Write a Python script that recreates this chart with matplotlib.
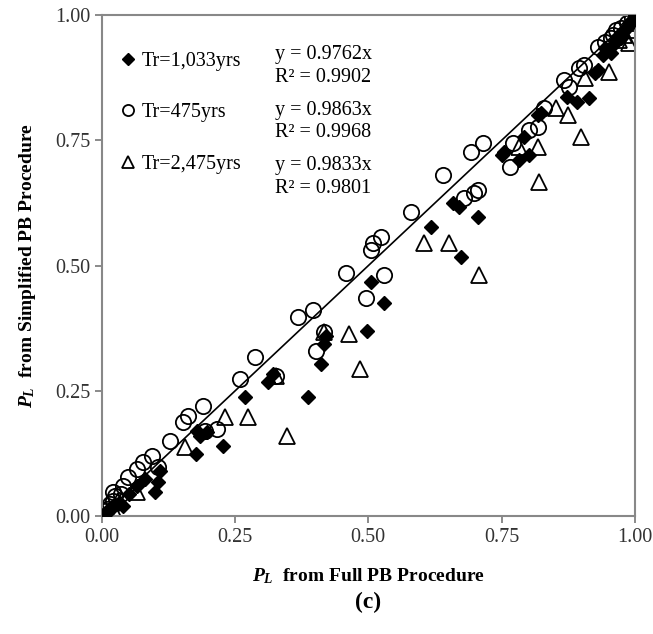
import matplotlib
matplotlib.use("Agg")
import matplotlib.pyplot as plt
import numpy as np

plt.rcParams['font.family'] = ['Liberation Serif', 'DejaVu Serif']
plt.rcParams['mathtext.fontset'] = 'custom'
plt.rcParams['mathtext.it'] = 'Liberation Serif:bold:italic'
plt.rcParams['mathtext.rm'] = 'Liberation Serif:bold'

# Tr = 1,033 yrs (filled diamonds)
tr1033_x = [0.000, 0.004, 0.008, 0.012, 0.018, 0.022, 0.030, 0.040, 0.050, 0.065, 0.081, 0.100,
            0.105, 0.109, 0.176, 0.179, 0.185, 0.198, 0.228, 0.269, 0.311, 0.321, 0.386, 0.412,
            0.416, 0.420, 0.497, 0.505, 0.529, 0.618, 0.659, 0.670, 0.674, 0.706, 0.750, 0.755,
            0.782, 0.793, 0.802, 0.819, 0.825, 0.872, 0.891, 0.915, 0.925, 0.932, 0.940, 0.950,
            0.960, 0.965, 0.970, 0.975, 0.980, 0.985, 0.990, 0.995, 1.000, 0.955, 0.945, 0.975, 0.990]
tr1033_y = [0.000, 0.004, 0.006, 0.012, 0.015, 0.022, 0.025, 0.020, 0.045, 0.060, 0.074, 0.048,
            0.068, 0.090, 0.124, 0.169, 0.159, 0.167, 0.139, 0.237, 0.267, 0.283, 0.237, 0.303,
            0.343, 0.360, 0.369, 0.468, 0.426, 0.578, 0.625, 0.618, 0.518, 0.598, 0.721, 0.727,
            0.711, 0.757, 0.721, 0.801, 0.805, 0.837, 0.827, 0.835, 0.884, 0.890, 0.920, 0.930,
            0.940, 0.950, 0.960, 0.965, 0.970, 0.975, 0.985, 0.990, 1.000, 0.925, 0.935, 0.955, 0.980]

# Tr = 475 yrs (open circles)
tr475_x = [0.000, 0.005, 0.010, 0.015, 0.020, 0.025, 0.035, 0.021, 0.040, 0.049, 0.066, 0.077,
           0.094, 0.105, 0.128, 0.153, 0.162, 0.190, 0.194, 0.216, 0.260, 0.288, 0.326, 0.369,
           0.397, 0.401, 0.416, 0.458, 0.495, 0.505, 0.508, 0.524, 0.529, 0.580, 0.640, 0.680,
           0.699, 0.706, 0.693, 0.716, 0.766, 0.772, 0.802, 0.819, 0.829, 0.868, 0.876, 0.895,
           0.904, 0.932, 0.944, 0.955, 0.960, 0.965, 0.975, 0.985, 0.995]
tr475_y = [0.000, 0.010, 0.015, 0.025, 0.030, 0.040, 0.045, 0.048, 0.060, 0.078, 0.094, 0.108,
           0.120, 0.098, 0.149, 0.187, 0.199, 0.219, 0.169, 0.173, 0.273, 0.317, 0.279, 0.398,
           0.412, 0.329, 0.367, 0.486, 0.436, 0.532, 0.546, 0.558, 0.482, 0.608, 0.681, 0.635,
           0.645, 0.651, 0.727, 0.745, 0.697, 0.745, 0.771, 0.777, 0.815, 0.871, 0.857, 0.894,
           0.900, 0.936, 0.946, 0.955, 0.960, 0.970, 0.975, 0.985, 0.995]

# Tr = 2,475 yrs (open triangles)
tr2475_x = [0.000, 0.010, 0.020, 0.030, 0.066, 0.156, 0.232, 0.275, 0.326, 0.348, 0.416, 0.463,
            0.484, 0.605, 0.652, 0.708, 0.783, 0.819, 0.821, 0.853, 0.874, 0.900, 0.906, 0.951,
            0.989, 0.970, 0.980, 1.000, 0.995]
tr2475_y = [0.000, 0.005, 0.015, 0.030, 0.048, 0.137, 0.197, 0.197, 0.279, 0.159, 0.367, 0.363,
            0.293, 0.546, 0.546, 0.482, 0.737, 0.737, 0.667, 0.815, 0.801, 0.757, 0.875, 0.886,
            0.944, 0.950, 0.960, 0.970, 0.985]

series_labels = ["Tr=1,033yrs", "Tr=475yrs", "Tr=2,475yrs"]
fit_texts = ["y = 0.9762x\nR² = 0.9902", "y = 0.9863x\nR² = 0.9968", "y = 0.9833x\nR² = 0.9801"]
ticks = [0.0, 0.25, 0.5, 0.75, 1.0]

fig = plt.figure(figsize=(6.53, 6.34), dpi=100)
ax = fig.add_axes([0.156, 0.186, 0.816, 0.79])

ax.plot([0, 1], [0, 1], color='black', lw=1.2, zorder=1)
ax.plot(tr1033_x, tr1033_y, 'D', ms=7, mfc='black', mec='black', ls='none',
        label=series_labels[0], zorder=3)
ax.plot(tr475_x, tr475_y, 'o', ms=11, mfc='none', mec='black', mew=1.3, ls='none',
        label=series_labels[1], zorder=2)
ax.plot(tr2475_x, tr2475_y, '^', ms=11, mfc='none', mec='black', mew=1.3, ls='none',
        label=series_labels[2], zorder=2)

leg = ax.legend(loc='upper left', bbox_to_anchor=(0.012, 0.955), frameon=False, fontsize=14.5,
                handlelength=0.6, handletextpad=0.35, labelspacing=1.6, borderaxespad=0.3)
for h, ms in zip(leg.legend_handles, [6, 8, 9]):
    h.set_markersize(ms)

for i, t in enumerate(fit_texts):
    ax.text(0.325, 0.94 - i * 0.111, t, transform=ax.transAxes, fontsize=14.5,
            va='top', ha='left', linespacing=1.25)

ax.set_xlim(0, 1)
ax.set_ylim(0, 1)
ax.set_xticks(ticks)
ax.set_yticks(ticks)
ax.set_xticklabels([f"{t:.2f}" for t in ticks])
ax.set_yticklabels([f"{t:.2f}" for t in ticks])
ax.tick_params(direction='out', length=5, width=1.2, color='#777777', labelsize=14.5,
               labelcolor='#333333', top=False, right=False)
for s in ax.spines.values():
    s.set_color('#888888')
    s.set_linewidth(1.5)

ax.set_xlabel("$P_L$  from Full PB Procedure", fontsize=14, fontweight='bold', labelpad=14)
ax.set_ylabel("$P_L$  from Simplified PB Procedure", fontsize=14, fontweight='bold', labelpad=12)
fig.text(0.5 * (0.156 + 0.972), 0.05, "(c)", ha='center', va='center', fontsize=17,
         fontweight='bold')

fig.savefig("out.png", dpi=100)
